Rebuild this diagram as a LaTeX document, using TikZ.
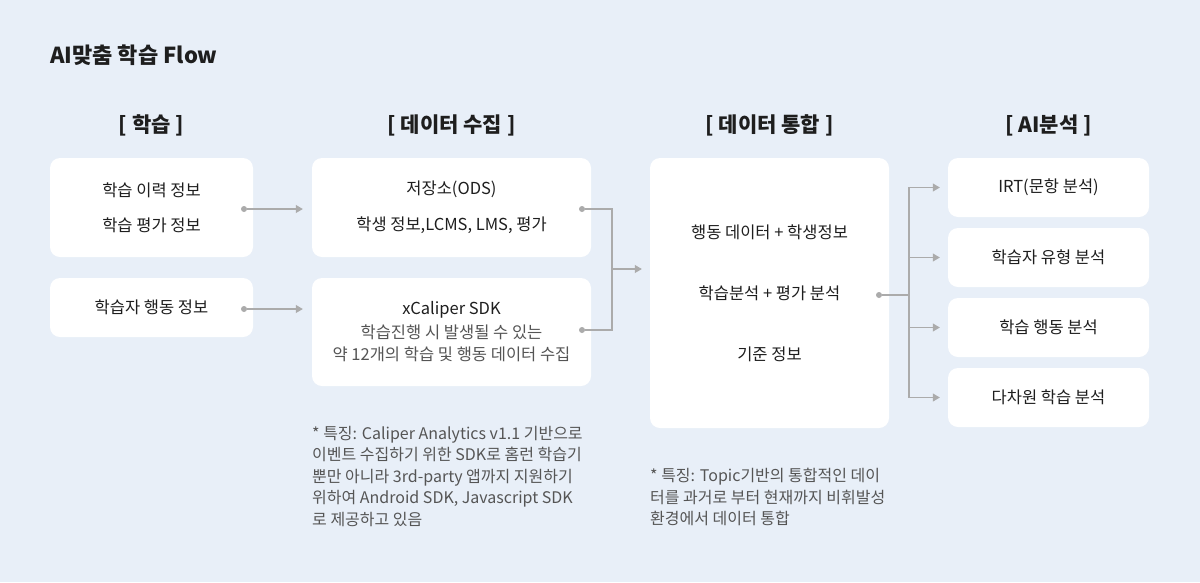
\documentclass[tikz,border=0pt]{standalone}
\usepackage{fontspec}
\setmainfont{Noto Sans CJK KR}
\usetikzlibrary{arrows.meta,positioning,calc}
\definecolor{canvas}{HTML}{E8EFF8}
\definecolor{ink}{HTML}{1E1E1E}
\definecolor{inkgray}{HTML}{555555}
\definecolor{wire}{HTML}{ABABAB}
\tikzset{
  card/.style={fill=white,rounded corners=10pt,inner sep=0pt,align=center,
               font=\fontsize{16.5}{22}\selectfont,text=ink},
  head/.style={font=\fontsize{21}{24}\selectfont\bfseries,text=ink},
  note/.style={anchor=north west,align=left,inner sep=0pt,
               font=\fontsize{16}{21.5}\selectfont,text=inkgray},
  port/.style={circle,fill=wire,inner sep=0pt,minimum size=6pt},
  wireln/.style={line width=1.1pt,draw=wire},
  wirearr/.style={wireln,-{Triangle[length=7pt,width=8pt]},shorten >=9pt}
}
\begin{document}
\begin{tikzpicture}[x=1pt,y=-1pt]
  \fill[canvas] (0,0) rectangle (1200,582);
  \useasboundingbox (0,0) rectangle (1200,582);

  % title and column heads
  \node[font=\fontsize{22}{24}\selectfont\bfseries,text=ink,anchor=west,inner sep=0pt]
    (title) at (50,55) {AI맞춤 학습 Flow};
  \node[head] (hlearn) at (151.5,125) {[ 학습 ]};
  \node[head] (hcollect) at (451.5,125) {[ 데이터 수집 ]};
  \node[head] (hmerge) at (769.5,125) {[ 데이터 통합 ]};
  \node[head] (hai) at (1048.5,125) {[ AI분석 ]};

  % learning
  \node[card,minimum width=203pt,minimum height=99pt] (hist) at (151.5,207.5)
    {학습 이력 정보\\[13pt]학습 평가 정보};
  \node[card,minimum width=203pt,minimum height=59pt] (behav) at (151.5,307.5)
    {학습자 행동 정보};

  % data collection
  \node[card,minimum width=279pt,minimum height=99pt] (ods) at (451.5,207.5)
    {저장소(ODS)\\[14pt]학생 정보,LCMS, LMS, 평가};
  \node[card,minimum width=279pt,minimum height=108pt] (sdk) at (451.5,332)
    {xCaliper SDK\\[2pt]{\color{inkgray}학습진행 시 발생될 수 있는}\\
     {\color{inkgray}약 12개의 학습 및 행동 데이터 수집}};

  % data merge
  \node[card,minimum width=239pt,minimum height=270pt] (merge) at (769.5,293)
    {행동 데이터 + 학생정보\\[39pt]학습분석 + 평가 분석\\[39pt]기준 정보};

  % AI analysis
  \foreach \n/\y/\t in {irt/187.5/IRT(문항 분석),type/257.5/학습자 유형 분석,
                        act/327.5/학습 행동 분석,multi/397.5/다차원 학습 분석} {
    \node[card,minimum width=201pt,minimum height=59pt] (\n) at (1048.5,\y) {\t};
  }

  % ports
  \node[port] (phist) at (244,209) {};
  \node[port] (pbehav) at (244,309) {};
  \node[port] (pods) at (582,209) {};
  \node[port] (psdk) at (582,330) {};
  \node[port] (pmerge) at (879,295) {};
  \coordinate (join) at (612,269);
  \coordinate (split) at (909,295);

  % connectors
  \draw[wirearr] (phist) -- (phist -| ods.west);
  \draw[wirearr] (pbehav) -- (pbehav -| sdk.west);
  \draw[wireln] (pods) -| (join);
  \draw[wireln] (psdk) -| (join);
  \draw[wirearr,shorten >=8pt] (join) -- (join -| merge.west);
  \draw[wireln] (pmerge) -- (split);
  \foreach \n in {irt,type,act,multi} {
    \draw[wirearr,shorten >=8pt] (split) |- (\n.west);
  }

  % notes
  \node[note] (notesdk) at (312,426)
    {* 특징: Caliper Analytics v1.1 기반으로\\
     이벤트 수집하기 위한 SDK로 홈런 학습기\\
     뿐만 아니라 3rd-party 앱까지 지원하기\\
     위하여 Android SDK, Javascript SDK\\
     로 제공하고 있음};
  \node[note] (notemerge) at (650,468)
    {* 특징: Topic기반의 통합적인 데이\\
     터를 과거로 부터 현재까지 비휘발성\\
     환경에서 데이터 통합};
\end{tikzpicture}
\end{document}
